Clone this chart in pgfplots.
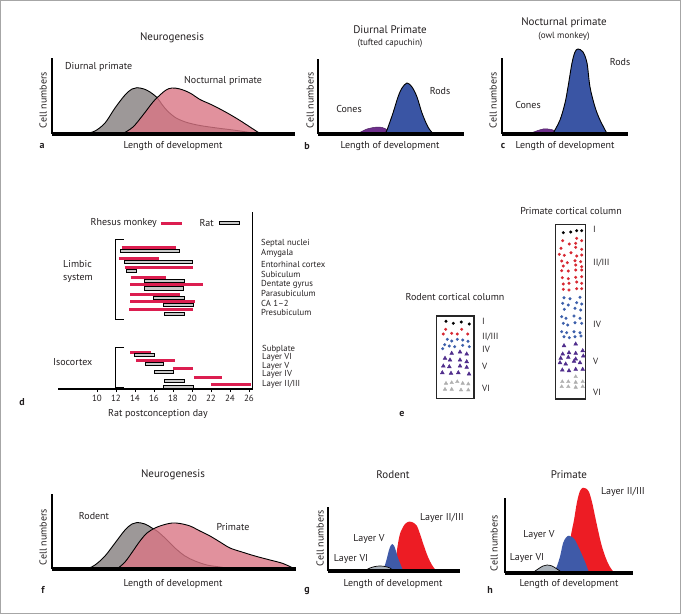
\documentclass[border=0pt]{standalone}
\usepackage{fontspec}
\setmainfont{PT Sans}
\usepackage{pgfplots}
\pgfplotsset{compat=1.18}
\definecolor{grayc}{RGB}{157,152,152}
\definecolor{pinkc}{RGB}{218,118,133}
\definecolor{rodsb}{RGB}{58,85,164}
\definecolor{conesp}{RGB}{110,47,140}
\definecolor{rhesus}{RGB}{220,30,80}
\definecolor{ratg}{RGB}{200,200,200}
\definecolor{layred}{RGB}{237,28,36}
\definecolor{layblue}{RGB}{63,90,168}
\definecolor{laygray}{RGB}{170,178,186}
\definecolor{dotred}{RGB}{215,40,50}
\definecolor{dotblue}{RGB}{60,95,170}
\definecolor{dotpurple}{RGB}{80,45,140}
\definecolor{dotgray}{RGB}{175,175,175}
\definecolor{txt}{RGB}{35,31,32}
\pgfplotsset{
 panel/.style={x=1pt,y=1pt,anchor=south west,axis lines=left,
   axis line style={-},
   x axis line style={-,line width=4pt},
   y axis line style={-,line width=1.1pt},
   xtick=\empty,ytick=\empty,clip=false,axis on top,xmin=0,ymin=0},
 curve/.style={smooth,tension=0.55,line width=0.9pt,draw=black},
 ratbox/.style={draw=black,fill=ratg,line width=0.8pt},
}
\tikzset{
 t/.style={font=\fontsize{10}{12}\selectfont,inner sep=0pt,text=txt},
 tt/.style={font=\fontsize{11}{13}\selectfont,inner sep=0pt,text=txt},
 ts/.style={font=\fontsize{9}{10}\selectfont,inner sep=0pt,text=txt},
 tx/.style={font=\fontsize{8.7}{10}\selectfont,inner sep=0pt,text=txt},
 tl/.style={font=\fontsize{10}{12}\selectfont\bfseries,inner sep=0pt,text=txt},
}
\begin{document}
\begin{tikzpicture}[x=1pt,y=1pt]
\useasboundingbox (0,0) rectangle (681,-614);
\draw[gray!70,line width=1.2pt] (0.6,-0.6) rectangle (680.4,-613.4);

% ---------- panel a ----------
\begin{axis}[panel,at={(52pt,-133.5pt)},xmax=243,ymax=75.5]
\addplot[curve,fill=grayc] coordinates {(34,0)(43,2.5)(53,10.5)(63,25.5)(73,38.5)(80,44.5)(85,45.8)(92,44.5)(98,41.5)(105,36)(110,29)(115,23)(120,18.5)(125,15)(135,11)(148,8)(165,5.5)(181,3.5)(195,1.5)(205,0)};
\addplot[curve,fill=pinkc,fill opacity=0.8] coordinates {(71,0)(81,6.5)(91,18.5)(101,31.5)(108,38.5)(114,43.5)(120,45.5)(128,44.5)(138,40.5)(148,34)(158,29.5)(168,24.5)(178,19)(188,13)(198,6.5)(208,0)};
\end{axis}
% ---------- panel b ----------
\begin{axis}[panel,at={(318pt,-133.5pt)},xmax=146,ymax=74.5]
\addplot[smooth,tension=0.55,fill=conesp,draw=conesp!70!black,line width=0.5pt] coordinates {(40,0)(49,4.5)(60,6.5)(67,5)(73,0)};
\addplot[curve,fill=rodsb] coordinates {(67,0)(69,3.5)(75,20.5)(80,36.5)(84,45.5)(89,50.5)(94,46.5)(99,36.5)(104,20.5)(110,6.5)(115,0)};
\end{axis}
% ---------- panel c ----------
\begin{axis}[panel,at={(502pt,-133.5pt)},xmax=126,ymax=75.5]
\addplot[smooth,tension=0.55,fill=conesp,draw=conesp!70!black,line width=0.5pt] coordinates {(28,0)(41,4.5)(51,3.5)(56,0)};
\addplot[curve,fill=rodsb] coordinates {(51,0)(58,13.5)(63,30.5)(66,46.5)(70,70.5)(73,81.5)(76,84.5)(81,81.5)(85,70.5)(88,46.5)(93,26.5)(98,13.5)(105,0)};
\end{axis}

% ---------- panel d ----------
\begin{axis}[x=9.5pt,y=1pt,anchor=south west,at={(58pt,-389pt)},
 xmin=5.9,xmax=26.4,ymin=0,ymax=177,
 axis x line=bottom,axis y line=right,axis line style={-,line width=1.2pt},
 ytick=\empty,xtick={10,12,...,26},tick align=outside,major tick length=3pt,
 tick style={black,line width=0.8pt},
 xticklabel style={font=\fontsize{9}{9}\selectfont,text=txt},
 /pgf/number format/assume math mode=true,clip=false]
\addplot[rhesus,line width=3pt,unbounded coords=jump] coordinates {
(12.6,141.7)(18.3,141.7) (nan,nan)
(12.3,131)(16.5,131) (nan,nan)
(12.9,121.7)(20.1,121.7) (nan,nan)
(13.55,111.7)(17.3,111.7) (nan,nan)
(13.5,104.3)(21.2,104.3) (nan,nan)
(13.5,94.3)(18.7,94.3) (nan,nan)
(13.5,87.7)(20.3,87.7) (nan,nan)
(13.4,79.7)(20.1,79.7) (nan,nan)
(13.5,37)(15.7,37) (nan,nan)
(14.1,28.7)(18.2,28.7) (nan,nan)
(18.0,20.3)(20.1,20.3) (nan,nan)
(20.2,11.7)(23.2,11.7) (nan,nan)
(22.0,5)(26.2,5)};
\addplot[ratbox] coordinates {(12.5,136.7)(18.7,136.7)(18.7,139.9)(12.5,139.9)} -- cycle;
\addplot[ratbox] coordinates {(12.9,125.4)(20.0,125.4)(20.0,128.6)(12.9,128.6)} -- cycle;
\addplot[ratbox] coordinates {(13.05,116.7)(14.2,116.7)(14.2,119.9)(13.05,119.9)} -- cycle;
\addplot[ratbox] coordinates {(14.95,106.7)(19.2,106.7)(19.2,109.9)(14.95,109.9)} -- cycle;
\addplot[ratbox] coordinates {(15.0,99.1)(19.05,99.1)(19.05,102.3)(15.0,102.3)} -- cycle;
\addplot[ratbox] coordinates {(15.9,89.7)(19.2,89.7)(19.2,92.9)(15.9,92.9)} -- cycle;
\addplot[ratbox] coordinates {(17.0,82.7)(20.1,82.7)(20.1,85.9)(17.0,85.9)} -- cycle;
\addplot[ratbox] coordinates {(17.1,73.4)(19.2,73.4)(19.2,76.6)(17.1,76.6)} -- cycle;
\addplot[ratbox] coordinates {(13.9,32.4)(16.0,32.4)(16.0,35.6)(13.9,35.6)} -- cycle;
\addplot[ratbox] coordinates {(15.05,23.7)(17.0,23.7)(17.0,26.9)(15.05,26.9)} -- cycle;
\addplot[ratbox] coordinates {(16.0,15.4)(18.0,15.4)(18.0,18.6)(16.0,18.6)} -- cycle;
\addplot[ratbox] coordinates {(17.1,6.7)(19.2,6.7)(19.2,9.9)(17.1,9.9)} -- cycle;
\addplot[ratbox] coordinates {(17.0,0.6)(20.1,0.6)(20.1,3.8)(17.0,3.8)} -- cycle;
% legend samples
\addplot[rhesus,line width=3pt] coordinates {(16.74,166)(18.95,166)};
\addplot[ratbox] coordinates {(22.85,164.4)(24.95,164.4)(24.95,167.6)(22.85,167.6)} -- cycle;
% brackets
\addplot[black,line width=0.9pt] coordinates {(12.8,150)(11.95,150)(11.95,70)(12.8,70)};
\addplot[black,line width=0.9pt] coordinates {(12.85,42)(11.97,42)(11.97,2)(12.85,2)};
\end{axis}

% ---------- panel e ----------
\begin{axis}[x=1pt,y=1pt,anchor=south west,at={(400pt,-420pt)},xmin=0,xmax=280,ymin=0,ymax=220,hide axis,clip=false]
\addplot[draw=black!85,line width=1.5pt] coordinates {(36.7,21.7)(74,21.7)(74,104)(36.7,104)} -- cycle;
\addplot[draw=black!85,line width=1.5pt] coordinates {(155.7,21)(185.7,21)(185.7,195.7)(155.7,195.7)} -- cycle;
% rodent
\addplot[only marks,mark=*,mark size=1.3pt,black] coordinates {(46,98.7)(53.3,96.7)(61.3,98)(69.3,96)};
\addplot[only marks,mark=*,mark size=1.3pt,dotred] coordinates {(45.7,90.7)(43.3,86)(51.7,86.7)(57.3,86)(61.7,90.7)(67.7,86)};
\addplot[only marks,mark=*,mark size=1.3pt,dotblue] coordinates {(47.3,80.7)(51.7,79)(57.3,80.7)(62.7,80)(68,78.7)(44.7,75.3)(49.3,74)(54.7,73.3)(62.7,74.7)(69.3,73.3)(42.7,71.3)};
\addplot[only marks,mark=triangle*,mark size=2.2pt,dotpurple] coordinates {(51.7,66.7)(60,68)(66.7,66)(45,61.7)(50,60)(60,60)(66.7,58.3)(43.3,54)(49.3,53.3)(60,54)(66.7,52.7)(42.3,47.3)(51,46.7)(58.3,47.3)(69,46)};
\addplot[only marks,mark=triangle*,mark size=2pt,dotgray] coordinates {(46,36.7)(51.7,37.3)(57.3,38.3)(62.7,36.7)(68.3,36)(45,30.7)(51.7,30.7)(61,30)(68.3,30)};
% primate
\addplot[only marks,mark=*,mark size=1.3pt,black] coordinates {(163.3,187.3)(170.7,188)(176.7,189.3)(181.7,189.3)};
\addplot[only marks,mark=*,mark size=1.3pt,dotred] coordinates {(162.7,179.3)(176.7,181.7)(181.7,179.3)(169.3,176)(175.7,176.7)(161,171.7)(175.7,172.7)(181.7,170.7)(159.3,165.7)(164.3,164.7)(171,167.3)(176.7,164)(181.7,165)(161.7,159)(167.3,157.3)(175,159.3)(180.7,158.3)(163.3,154)(175.7,155)(181.7,153.3)(161.7,149.3)(168.3,149)(175.7,150)(181.7,150)(162.3,142.3)(168.3,141.3)(175.7,142.7)(181.7,143.3)(163.3,136)(169,136.7)(176.7,138)(181.7,136.7)(163.3,130.7)(169,130)(176.7,131.3)(181.7,131.3)};
\addplot[only marks,mark=*,mark size=1.3pt,dotblue] coordinates {(164,122.3)(170,121.3)(180,122.7)(162.7,116.7)(168.3,115)(176.7,117.3)(181.7,116)(164.3,110.7)(175,111.7)(180.7,110)(161.7,103.3)(166,101.7)(174,104)(180,101.7)(163.3,96.7)(167.7,95)(175,97.3)(181.7,96.7)(161.7,88.3)(166.7,87.3)(174,88.3)(180,87.3)(164,83.3)(169.3,82.3)(175,83.3)(181,84)};
\addplot[only marks,mark=triangle*,mark size=2.2pt,dotpurple] coordinates {(164,74.3)(175.7,76)(162.7,66)(169,67.3)(175.7,66.7)(182.7,69.3)(160.7,61.7)(168.3,62.7)(175.7,61)(183.3,64)(160,57.3)(165.7,56)(174,58.7)(180,57.3)(162.3,50)(169,49.3)(175.7,50.7)(182.7,50.7)};
\addplot[only marks,mark=triangle*,mark size=2pt,dotgray] coordinates {(175.7,43.3)(162.3,38.3)(168.3,38.3)(175.7,37.7)(182.7,38.3)(161.7,33.3)(168.3,33.3)(175.7,32.7)(182.7,33.3)};
\end{axis}

% ---------- panel f ----------
\begin{axis}[panel,at={(52pt,-569pt)},xmax=244,ymax=75]
\addplot[curve,fill=grayc] coordinates {(35,0)(43,4)(53,13)(63,26)(73,39)(80,45)(85,46.5)(93,45)(100,41)(105,38)(113,31)(123,21)(133,13)(143,8)(155,4)(168,2)(181,0)};
\addplot[curve,fill=pinkc,fill opacity=0.8] coordinates {(65,0)(73,7)(81,18)(88,28)(95,36)(103,41)(111,44)(120,46)(128,45.5)(138,43)(148,38)(158,33)(168,27)(178,21)(190,17)(203,13)(218,9)(231,5.5)(243,0)};
\end{axis}
% ---------- panel g ----------
\begin{axis}[panel,at={(328pt,-570.5pt)},xmax=132,ymax=64]
\addplot[smooth,tension=0.55,fill=layred,draw=none] coordinates {(67,0)(68,10.5)(69,20.5)(71,32.5)(73,39.5)(77,46.5)(81,48.8)(85,48)(89,44.5)(92,36.5)(96,24.5)(100,13.5)(104,5.5)(108,0)};
\addplot[smooth,tension=0.55,fill=layblue,draw=none] coordinates {(55,0)(57,5.5)(59,12.5)(61,20.5)(63,25.5)(64.5,26.5)(66,25)(68,19.5)(70,12.5)(72,7.5)(75,0)};
\addplot[curve,fill=laygray,line width=0.7pt] coordinates {(37,0)(42,2.5)(47,4)(52,4.5)(57,4)(62,2.5)(65,0)};
\end{axis}
% ---------- panel h ----------
\begin{axis}[panel,at={(505pt,-572.5pt)},xmax=128,ymax=75]
\addplot[smooth,tension=0.55,fill=layred,draw=none] coordinates {(60,0)(63,17.5)(66,37.5)(69,52.5)(72,70.5)(75,81.5)(78,84.8)(81,84)(84,80.5)(87,70.5)(90,56.5)(93,42.5)(96,29.5)(99,19.5)(102,11.5)(105,5.5)(109,0)};
\addplot[smooth,tension=0.55,fill=layblue,draw=none] coordinates {(49,0)(52,6.5)(55,15.8)(58,29.2)(61,35)(64,36.8)(67,35.5)(70,32.5)(73,26.5)(76,20)(80,10.8)(84,0)};
\addplot[curve,fill=laygray,line width=0.7pt] coordinates {(28,0)(33,3.5)(38,6.5)(42,7.5)(47,6.5)(52,3.5)(57,0)};
\end{axis}

% ---------- texts ----------
% a
\node[tt] at (172,-38) {Neurogenesis};
\node[t,anchor=west] at (65,-67) {Diurnal primate};
\node[t,anchor=west] at (184,-81) {Nocturnal primate};
\node[t,rotate=90] at (43,-100) {Cell numbers};
\node[t] at (173,-146) {Length of development};
\node[tl] at (42,-146) {a};
% b
\node[tt] at (390,-30) {Diurnal Primate};
\node[ts] at (390,-43) {(tufted capuchin)};
\node[t,rotate=90] at (310,-100) {Cell numbers};
\node[t] at (349,-109) {Cones};
\node[t] at (440,-91) {Rods};
\node[t] at (390,-146) {Length of development};
\node[tl] at (307,-146) {b};
% c
\node[tt] at (564,-23) {Nocturnal primate};
\node[ts] at (564,-36) {(owl monkey)};
\node[t,rotate=90] at (493,-100) {Cell numbers};
\node[t] at (528,-105) {Cones};
\node[t] at (620,-62) {Rods};
\node[t] at (565,-146) {Length of development};
\node[tl] at (503,-146) {c};
% d
\node[t,anchor=east] at (157,-223) {Rhesus monkey};
\node[t,anchor=east] at (214,-223) {Rat};
\node[tx,anchor=west] at (261,-243) {Septal nuclei};
\node[tx,anchor=west] at (261,-253.3) {Amygala};
\node[tx,anchor=west] at (261,-264.5) {Entorhinal cortex};
\node[tx,anchor=west] at (261,-274.3) {Subiculum};
\node[tx,anchor=west] at (261,-284.5) {Dentate gyrus};
\node[tx,anchor=west] at (261,-293.5) {Parasubiculum};
\node[tx,anchor=west] at (261,-303) {CA 1–2};
\node[tx,anchor=west] at (261,-312.3) {Presubiculum};
\node[t,anchor=west] at (63,-264) {Limbic};
\node[t,anchor=west] at (63,-278) {system};
\node[t,anchor=west] at (53,-362) {Isocortex};
\node[tx,anchor=west] at (262,-349) {Subplate};
\node[tx,anchor=west] at (262,-357.7) {Layer VI};
\node[tx,anchor=west] at (262,-365.9) {Layer V};
\node[tx,anchor=west] at (262,-374.3) {Layer IV};
\node[tx,anchor=west] at (262,-384.3) {Layer II/III};
\node[t] at (158,-414) {Rat postconception day};
\node[tl] at (22,-402) {d};
% e
\node[t] at (455,-297) {Rodent cortical column};
\node[t] at (571,-211) {Primate cortical column};
\node[ts,anchor=west] at (482,-321.7) {I};
\node[ts,anchor=west] at (482,-336.7) {II/III};
\node[ts,anchor=west] at (482,-349.3) {IV};
\node[ts,anchor=west] at (482,-366.7) {V};
\node[ts,anchor=west] at (482,-388.3) {VI};
\node[ts,anchor=west] at (593,-229.3) {I};
\node[ts,anchor=west] at (593,-263.3) {II/III};
\node[ts,anchor=west] at (593,-324.3) {IV};
\node[ts,anchor=west] at (593,-361.7) {V};
\node[ts,anchor=west] at (593,-392.3) {VI};
\node[tl] at (402,-414) {e};
% f
\node[tt] at (173,-475) {Neurogenesis};
\node[t,rotate=90] at (43,-537) {Cell numbers};
\node[t] at (94,-516) {Rodent};
\node[t] at (233,-527) {Primate};
\node[t] at (173,-584) {Length of development};
\node[tl] at (43,-590) {f};
% g
\node[tt] at (393,-475) {Rodent};
\node[t,rotate=90] at (320,-538) {Cell numbers};
\node[t] at (442,-518) {Layer II/III};
\node[t] at (369,-539) {Layer V};
\node[t] at (351,-559) {Layer VI};
\node[t] at (393,-584) {Length of development};
\node[tl] at (307,-591) {g};
% h
\node[tt] at (569,-475) {Primate};
\node[t,rotate=90] at (494,-543) {Cell numbers};
\node[t] at (623,-492) {Layer II/III};
\node[t] at (539,-535) {Layer V};
\node[t] at (527,-558) {Layer VI};
\node[t] at (569,-584) {Length of development};
\node[tl] at (490,-590) {h};
\end{tikzpicture}
\end{document}
